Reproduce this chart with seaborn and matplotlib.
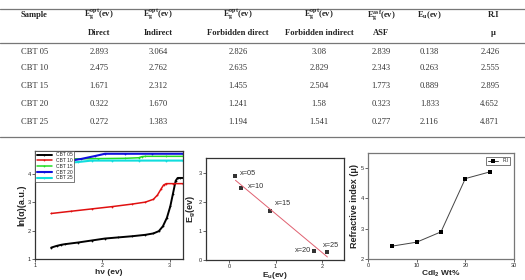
import matplotlib
matplotlib.use("Agg")
import matplotlib.pyplot as plt
from matplotlib.lines import Line2D
import seaborn as sns

# Tabela
naglowki_1 = ["Sample", "E$_\\mathbf{g}^\\mathbf{opt}$(ev)", "E$_\\mathbf{g}^\\mathbf{opt}$(ev)",
              "E$_\\mathbf{g}^\\mathbf{opt}$(ev)", "E$_\\mathbf{g}^\\mathbf{opt}$(ev)",
              "E$_\\mathbf{g}^\\mathbf{asf}$(ev)", "E$_\\mathbf{u}$(ev)", "R.I"]
naglowki_2 = ["", "Direct", "Indirect", "Forbidden direct", "Forbidden indirect", "ASF", "", "μ"]
probki = ["CBT 05", "CBT 10", "CBT 15", "CBT 20", "CBT 25"]
eg_direct = [2.893, 2.475, 1.671, 0.322, 0.272]
eu = [0.138, 0.263, 0.889, 1.833, 2.116]
ri = [2.426, 2.555, 2.895, 4.652, 4.871]
ri_txt = ["2.426", "2.555", "2.895", "4.652", "4.871"]
eg_direct_txt = ["2.893", "2.475", "1.671", "0.322", "0.272"]
eg_indirect_txt = ["3.064", "2.762", "2.312", "1.670", "1.383"]
eg_fd_txt = ["2.826", "2.635", "1.455", "1.241", "1.194"]
eg_fi_txt = ["3.08", "2.829", "2.504", "1.58", "1.541"]
eg_asf_txt = ["2.839", "2.343", "1.773", "0.323", "0.277"]
eu_txt = ["0.138", "0.263", "0.889", "1.833", "2.116"]

# Wykres 1: ln(alfa) od hv
hv_05 = [1.24, 1.32, 1.39, 1.44, 1.64, 1.84, 2.04, 2.24, 2.44, 2.64, 2.76, 2.84, 2.90, 2.96, 3.01, 3.05, 3.09, 3.12, 3.15, 3.20]
ln_05 = [1.40, 1.46, 1.50, 1.52, 1.58, 1.65, 1.72, 1.76, 1.80, 1.85, 1.90, 1.98, 2.15, 2.45, 2.85, 3.30, 3.75, 3.85, 3.85, 3.85]
hv_10 = [1.24, 1.54, 1.84, 2.14, 2.44, 2.64, 2.76, 2.82, 2.87, 2.91, 2.95, 3.05, 3.20]
ln_10 = [2.60, 2.68, 2.76, 2.84, 2.93, 3.00, 3.10, 3.25, 3.45, 3.60, 3.65, 3.65, 3.65]
hv_15 = [1.24, 1.54, 1.94, 2.34, 2.54, 2.59, 2.64, 2.95, 3.20]
ln_15 = [4.50, 4.52, 4.53, 4.54, 4.56, 4.60, 4.61, 4.61, 4.61]
hv_20 = [1.24, 1.49, 1.69, 1.89, 2.04, 2.34, 2.74, 3.20]
ln_20 = [4.42, 4.44, 4.52, 4.62, 4.70, 4.70, 4.70, 4.70]
hv_25 = [1.24, 1.44, 1.64, 1.84, 2.14, 2.54, 2.94, 3.20]
ln_25 = [4.35, 4.37, 4.41, 4.46, 4.46, 4.46, 4.46, 4.46]

# Wykres 2 i 3
etykiety_x = ["x=05", "x=10", "x=15", "x=20", "x=25"]
cdi2_wt = [5, 10, 15, 20, 25]

sns.set_style("white")
plt.rcParams['font.family'] = ['Liberation Sans', 'DejaVu Sans']
plt.rcParams['mathtext.fontset'] = 'custom'
plt.rcParams['mathtext.rm'] = 'Liberation Serif'
plt.rcParams['mathtext.bf'] = 'Liberation Serif:bold'
plt.rcParams['mathtext.sf'] = 'Liberation Sans:bold'
plt.rcParams['mathtext.it'] = 'Liberation Serif:italic'

fig = plt.figure(figsize=(5.25, 2.8), dpi=100)

# --- tabela ---
kol_x = [0.04, 0.189, 0.301, 0.453, 0.608, 0.726, 0.818, 0.94]
wiersze_y = [0.814, 0.757, 0.693, 0.629, 0.564]
fs_tab = 6.1
for i, (h1, h2) in enumerate(zip(naglowki_1, naglowki_2)):
    ha = 'left' if i == 0 else 'center'
    fig.text(kol_x[i], 0.946, h1, ha=ha, va='center', fontsize=fs_tab, fontweight='bold',
             family='Liberation Serif', color='#222')
    if h2:
        fig.text(kol_x[i], 0.882, h2, ha=ha, va='center', fontsize=fs_tab, fontweight='bold',
                 family='Liberation Serif', color='#222')

kolumny = [probki, eg_direct_txt, eg_indirect_txt, eg_fd_txt, eg_fi_txt, eg_asf_txt, eu_txt, ri_txt]
for i, kol in enumerate(kolumny):
    ha = 'left' if i == 0 else 'center'
    x = kol_x[i] if i != 7 else 0.933
    for y, v in zip(wiersze_y, kol):
        fig.text(x, y, v, ha=ha, va='center', fontsize=fs_tab, family='Liberation Serif', color='#333')

for y in [0.968, 0.846, 0.511]:
    fig.add_artist(Line2D([0, 1], [y, y], transform=fig.transFigure, color='#777', lw=0.9))

# --- wykres 1 ---
ax1 = fig.add_axes([0.0667, 0.075, 0.282, 0.386])
krzywe = [(hv_05, ln_05, 'black', 'CBT 05', 1.4), (hv_10, ln_10, '#e01010', 'CBT 10', 1.1),
          (hv_15, ln_15, '#22dd22', 'CBT 15', 1.1), (hv_20, ln_20, '#1010dd', 'CBT 20', 1.5),
          (hv_25, ln_25, '#11dddd', 'CBT 25', 1.5)]
for hx, ly, c, lab, lw in krzywe:
    sns.lineplot(x=hx, y=ly, ax=ax1, color=c, lw=lw, marker='o', markersize=1.3,
                 markeredgewidth=0, label=lab)
ax1.set_xlim(1, 3.2)
ax1.set_ylim(1, 4.8)
ax1.set_xticks([1, 2, 3])
ax1.set_yticks([1, 2, 3, 4])
ax1.set_xlabel("hν (ev)", fontsize=6, fontweight='bold', labelpad=0.5)
ax1.set_ylabel("ln(α)(a.u.)", fontsize=6.5, fontweight='bold', labelpad=1)
leg = ax1.legend(loc='upper left', fontsize=3.6, handlelength=3, labelspacing=0.15, borderpad=0.25,
                 borderaxespad=0.05, fancybox=False, framealpha=1, edgecolor='#444')
leg.get_frame().set_linewidth(0.5)

# --- wykres 2 ---
ax2 = fig.add_axes([0.392, 0.0714, 0.263, 0.364])
sns.regplot(x=eu, y=eg_direct, ax=ax2, ci=None, marker='s',
            scatter_kws={'s': 5, 'color': 'black', 'linewidths': 0},
            line_kws={'color': '#e06070', 'lw': 0.7})
offsety = [(3, 1.5), (5, 1), (3, 6), (-2, 0), (-3.5, 5)]
for xv, yv, t, (dx, dy) in zip(eu, eg_direct, etykiety_x, offsety):
    ha = 'right' if t == "x=20" else 'left'
    ax2.annotate(t, (xv, yv), xytext=(dx, dy), textcoords='offset points', ha=ha, va='center',
                 fontsize=5.3, color='#333')
ax2.set_xlim(-0.5, 2.47)
ax2.set_ylim(0, 3.5)
ax2.set_xticks([0, 1, 2])
ax2.set_yticks([0, 1, 2, 3])
ax2.set_xlabel("E$_\\mathsf{u}$(ev)", fontsize=6, fontweight='bold', labelpad=0.5)
ax2.set_ylabel("E$_\\mathsf{g}$(ev)", fontsize=6.5, fontweight='bold', labelpad=1)

# --- wykres 3 ---
ax3 = fig.add_axes([0.701, 0.075, 0.278, 0.379])
sns.lineplot(x=cdi2_wt, y=ri, ax=ax3, color='#444', lw=0.7, marker='s', markersize=2.3,
             markerfacecolor='black', markeredgewidth=0, label='R.I')
ax3.set_xlim(0, 30)
ax3.set_ylim(2, 5.5)
ax3.set_xticks([0, 10, 20, 30])
ax3.set_yticks([2, 3, 4, 5])
ax3.set_xlabel("CdI$_\\mathsf{2}$ Wt%", fontsize=6, fontweight='bold', labelpad=0.5)
ax3.set_ylabel("Refractive index (μ)", fontsize=6.5, fontweight='bold', labelpad=1)
leg3 = ax3.legend(loc='upper right', fontsize=3.5, handlelength=2.2, borderpad=0.25,
                  borderaxespad=0.9, fancybox=False, framealpha=1, edgecolor='#444')
leg3.get_frame().set_linewidth(0.5)

for ax, kolor in [(ax1, '#333'), (ax2, '#333'), (ax3, '#777')]:
    ax.tick_params(labelsize=4, length=2, width=0.5, pad=1, direction='out', bottom=True, left=True)
    for s in ax.spines.values():
        s.set_color(kolor)
        s.set_linewidth(0.9)

fig.savefig("out.png", dpi=100)
